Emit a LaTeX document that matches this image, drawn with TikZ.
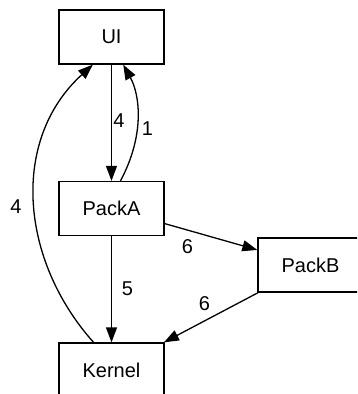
\documentclass[tikz,border=0pt]{standalone}
\usepackage{fontspec}
\setmainfont{Liberation Sans}
\usetikzlibrary{arrows.meta}

\begin{document}
\begin{tikzpicture}[x=1pt, y=-1pt, line width=1.3pt,
    >={Triangle[length=15pt, width=11pt]},
    pack/.style={draw, rectangle, minimum width=105pt, minimum height=54pt,
      inner sep=0pt, font=\fontsize{20}{24}\selectfont},
    lbl/.style={inner sep=0pt, font=\fontsize{20}{24}\selectfont}]
  \useasboundingbox (0,0) rectangle (357,394);
  \clip (0,0) rectangle (357,394);
  % packages
  \node[pack] (ui) at (111.5,37) {UI};
  \node[pack] (packa) at (111.5,208.5) {PackA};
  \node[pack] (packb) at (310.5,265) {PackB};
  \node[pack] (kernel) at (111.5,370) {Kernel};
  % dependencies
  \draw[->] (ui) -- (packa);
  \draw[->] (packa.72) .. controls (145,135) and (140,95) .. (ui.-67);
  \draw[->] (kernel.123) .. controls (20,260) and (10,140) .. (ui.-124);
  \draw[->] (packa) -- (kernel);
  \draw[->] (packa) -- (packb);
  \draw[->] (packb) -- (kernel);
  % weights
  \node[lbl] (w-ui-a) at (119,120.5) {4};
  \node[lbl] (w-a-ui) at (147.5,129) {1};
  \node[lbl] (w-k-ui) at (16,207) {4};
  \node[lbl] (w-a-k) at (127.5,289) {5};
  \node[lbl] (w-a-b) at (187.5,246.5) {6};
  \node[lbl] (w-b-k) at (204.5,304) {6};
\end{tikzpicture}
\end{document}
